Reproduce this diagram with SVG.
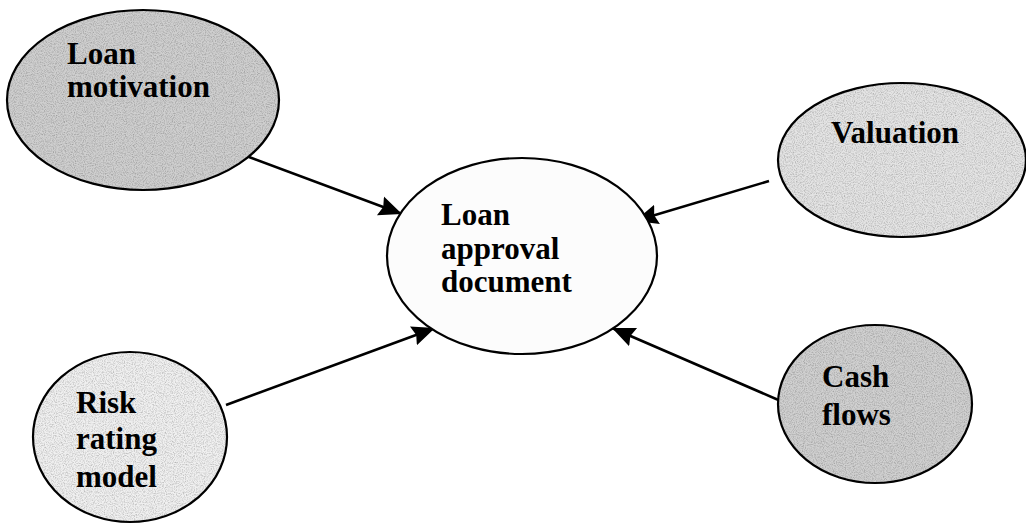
<svg xmlns="http://www.w3.org/2000/svg" width="1026" height="524" viewBox="0 0 1026 524">
  <style>
    .node { stroke: #000; stroke-width: 2.2; }
    .outline { fill: none; stroke: #000; stroke-width: 2.2; }
    .label { font-family: "Liberation Serif", "Times New Roman", serif; font-weight: bold; font-size: 31px; fill: #000; }
    .edge { stroke: #000; stroke-width: 2.6; fill: none; marker-end: url(#arrow); }
  </style>
  <defs>
    <marker id="arrow" markerUnits="userSpaceOnUse" markerWidth="26" markerHeight="24" refX="23" refY="11" orient="auto">
      <path d="M0,1 L23,11 L0,21 L3,11 Z" fill="#000"/>
    </marker>
    <!-- mottled print texture for the shaded bubbles -->
    <filter id="grain" x="0" y="0" width="100%" height="100%">
      <feTurbulence type="fractalNoise" baseFrequency="0.9" numOctaves="2" seed="3" result="noise"/>
      <feColorMatrix in="noise" type="matrix" values="0 0 0 0 0  0 0 0 0 0  0 0 0 0 0  0 0 0 -0.9 0.55" result="dots"/>
      <feComposite in="dots" in2="SourceGraphic" operator="in" result="speck"/>
      <feBlend in="speck" in2="SourceGraphic" mode="multiply"/>
    </filter>
  </defs>
  <rect width="1026" height="524" fill="#fff"/>

  <g id="connectors">
    <line class="edge" x1="249" y1="157" x2="402" y2="214"/>
    <line class="edge" x1="769" y1="181" x2="635" y2="221"/>
    <line class="edge" x1="226" y1="405" x2="435" y2="328"/>
    <line class="edge" x1="783" y1="402" x2="612" y2="328"/>
  </g>

  <g id="loan-motivation">
    <ellipse cx="143" cy="100" rx="136" ry="90" fill="#cfcfcf" filter="url(#grain)"/>
    <ellipse class="outline" cx="143" cy="100" rx="136" ry="90"/>
    <text class="label" x="67" y="64">Loan</text>
    <text class="label" x="67" y="97">motivation</text>
  </g>

  <g id="loan-approval-document">
    <ellipse class="node" cx="522" cy="256" rx="135" ry="98" fill="#fcfcfc"/>
    <text class="label" x="441" y="225">Loan</text>
    <text class="label" x="441" y="259">approval</text>
    <text class="label" x="441" y="292">document</text>
  </g>

  <g id="valuation">
    <ellipse cx="902" cy="160" rx="124" ry="77" fill="#e4e4e4" filter="url(#grain)"/>
    <ellipse class="outline" cx="902" cy="160" rx="124" ry="77"/>
    <text class="label" x="831" y="143">Valuation</text>
  </g>

  <g id="risk-rating-model">
    <ellipse cx="130" cy="437" rx="97" ry="85" fill="#f0f0f0" filter="url(#grain)"/>
    <ellipse class="outline" cx="130" cy="437" rx="97" ry="85"/>
    <text class="label" x="76" y="413">Risk</text>
    <text class="label" x="76" y="449">rating</text>
    <text class="label" x="76" y="487">model</text>
  </g>

  <g id="cash-flows">
    <ellipse cx="875" cy="404" rx="97" ry="79" fill="#d0d0d0" filter="url(#grain)"/>
    <ellipse class="outline" cx="875" cy="404" rx="97" ry="79"/>
    <text class="label" x="822" y="387">Cash</text>
    <text class="label" x="822" y="425">flows</text>
  </g>
</svg>
